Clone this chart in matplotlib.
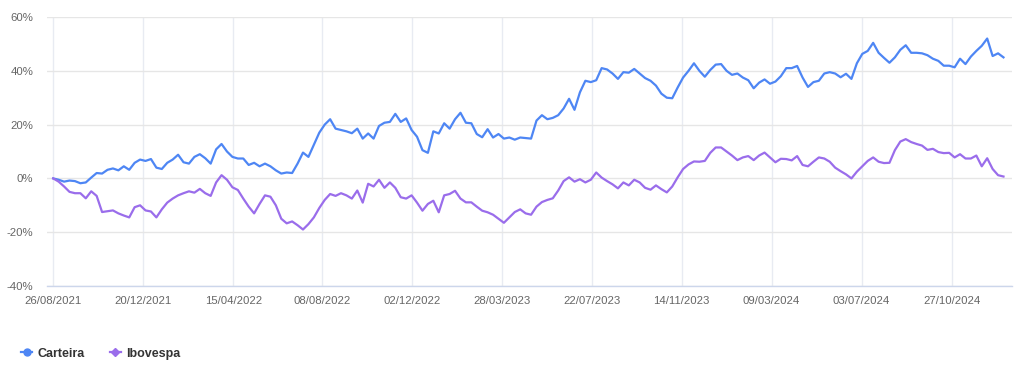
import numpy as np
import pandas as pd
import matplotlib
matplotlib.use("Agg")
import matplotlib.pyplot as plt
import matplotlib.dates as mdates
from matplotlib.lines import Line2D
from matplotlib.ticker import FuncFormatter

plt.rcParams['font.family'] = ['Liberation Sans', 'DejaVu Sans']

# weekly observations starting 26/08/2021
dates = pd.date_range('2021-08-26', periods=176, freq='7D')

# accumulated return (%)
carteira = [
    0.0, -0.5, -1.2, -0.8, -1.0, -1.8, -1.5, 0.3, 2.0, 1.8,
    3.2, 3.7, 3.0, 4.5, 3.2, 5.8, 7.0, 6.5, 7.2, 4.0,
    3.5, 5.8, 7.0, 8.8, 6.0, 5.5, 8.0, 9.0, 7.5, 5.5,
    10.8, 12.8, 10.0, 8.0, 7.4, 7.4, 5.0, 5.8, 4.5, 5.5,
    4.5, 3.0, 1.8, 2.2, 2.0, 5.5, 9.6, 8.0, 12.5, 17.0,
    20.0, 22.0, 18.5, 18.0, 17.5, 16.8, 18.5, 14.8, 16.7, 14.8,
    19.5, 20.7, 21.0, 24.0, 21.0, 22.3, 18.0, 15.5, 10.5, 9.5,
    17.5, 16.7, 20.5, 18.5, 22.0, 24.4, 20.7, 20.5, 16.5, 15.3,
    18.3, 15.2, 16.5, 14.8, 15.2, 14.4, 15.2, 15.0, 14.8, 21.5,
    23.5, 22.0, 22.5, 23.5, 26.0, 29.6, 25.5, 32.0, 36.3, 35.8,
    36.5, 41.0, 40.5, 39.0, 37.0, 39.5, 39.3, 40.7, 39.0, 37.3,
    36.3, 34.5, 31.5, 30.0, 29.8, 33.8, 37.5, 40.0, 42.8, 40.0,
    37.8, 40.3, 42.3, 42.5, 40.0, 38.5, 39.0, 37.5, 36.5, 33.5,
    35.6, 36.8, 35.2, 36.0, 38.0, 41.0, 41.0, 41.8, 37.5, 34.0,
    35.8, 36.3, 39.0, 39.5, 39.0, 37.6, 38.9, 37.0, 42.8, 46.3,
    47.4, 50.4, 46.7, 44.8, 43.0, 45.0, 47.8, 49.5, 46.7, 46.7,
    46.5, 45.8, 44.5, 43.7, 41.9, 41.9, 41.3, 44.5, 42.5, 45.3,
    47.4, 49.3, 52.0, 45.5, 46.5, 45.0,
]

ibovespa = [
    0.0, -1.2, -3.0, -5.0, -5.5, -5.5, -7.4, -4.8, -6.5, -12.5,
    -12.2, -11.9, -13.0, -13.8, -14.5, -10.7, -10.0, -11.9, -12.3, -14.5,
    -11.5, -9.0, -7.5, -6.3, -5.5, -4.8, -5.3, -3.9, -5.5, -6.5,
    -1.5, 1.2, -0.5, -3.3, -4.3, -7.5, -10.5, -13.0, -9.5, -6.3,
    -6.8, -10.0, -15.0, -16.7, -16.0, -17.4, -19.0, -17.0, -14.5, -11.0,
    -8.0, -5.8, -6.5, -5.5, -6.3, -7.5, -4.5, -9.0, -2.0, -3.0,
    -0.5, -3.5, -1.5, -3.5, -7.0, -7.5, -6.3, -9.0, -12.0, -9.5,
    -8.3, -12.6, -6.3, -5.8, -4.6, -7.5, -8.9, -8.9, -10.5, -12.0,
    -12.6, -13.5, -15.0, -16.5, -14.5, -12.5, -11.5, -13.0, -13.5, -10.5,
    -8.8, -8.0, -7.4, -4.5, -1.0, 0.4, -1.2, -0.3, -1.5, -0.5,
    2.2, 0.3, -1.0, -2.2, -3.7, -1.5, -2.6, -0.5, -1.5, -3.5,
    -4.2, -2.6, -4.0, -5.2, -3.0, 0.4, 3.5, 5.2, 6.3, 6.2,
    6.5, 9.5, 11.5, 11.5, 10.0, 8.5, 6.8, 7.8, 8.3, 6.8,
    8.5, 9.6, 7.8, 6.0, 7.3, 7.2, 6.7, 8.3, 5.0, 4.5,
    6.2, 7.8, 7.4, 6.2, 4.0, 2.7, 1.5, 0.0, 2.5, 4.5,
    6.5, 7.8, 6.2, 5.7, 5.8, 10.5, 13.7, 14.6, 13.5, 12.8,
    12.2, 10.6, 11.0, 9.8, 9.4, 9.5, 7.8, 9.0, 7.4, 7.4,
    8.5, 4.5, 7.5, 3.5, 1.2, 0.7,
]

tick_dates = pd.to_datetime(['2021-08-26', '2021-12-20', '2022-04-15', '2022-08-08',
                             '2022-12-02', '2023-03-28', '2023-07-22', '2023-11-14',
                             '2024-03-09', '2024-07-03', '2024-10-27'])
y_ticks = [-40, -20, 0, 20, 40, 60]

c_cart = '#4e86f4'
c_ibov = '#9a6deb'

fig = plt.figure(figsize=(10.24, 3.74), dpi=100)
ax = fig.add_axes([0.0459, 0.2353, 0.9424, 0.7192])

ax.plot(dates, carteira, color=c_cart, lw=1.6, solid_joinstyle='round')
ax.plot(dates, ibovespa, color=c_ibov, lw=1.6, solid_joinstyle='round')

ax.set_ylim(-40, 60)
ax.set_yticks(y_ticks)
ax.yaxis.set_major_formatter(FuncFormatter(lambda v, p: f'{v:.0f}%'))
ax.set_xticks(tick_dates)
ax.xaxis.set_major_formatter(mdates.DateFormatter('%d/%m/%Y'))
ax.set_xlim(tick_dates[0] - pd.Timedelta(days=8), tick_dates[-1] + pd.Timedelta(days=78))

ax.grid(axis='y', color='#e6e6e6', lw=1)
ax.grid(axis='x', color='#e8ebf2', lw=1)
ax.set_axisbelow(True)
for s in ['top', 'right', 'left']:
    ax.spines[s].set_visible(False)
ax.spines['bottom'].set_color('#ccd6eb')
ax.spines['bottom'].set_linewidth(1)
ax.tick_params(axis='both', length=0, labelsize=8.2, colors='#666666')
ax.tick_params(axis='y', pad=10)
ax.tick_params(axis='x', pad=7)

handles = [
    Line2D([], [], color=c_cart, lw=1.6, marker='o', markersize=5),
    Line2D([], [], color=c_ibov, lw=1.6, marker='D', markersize=4),
]
leg = fig.legend(handles, ['Carteira', 'Ibovespa'], loc='lower left',
                 bbox_to_anchor=(0.01, 0.008), ncol=2, frameon=False,
                 handlelength=0.85, handletextpad=0.45, columnspacing=2.0,
                 prop={'weight': 'bold', 'size': 9})
for t in leg.get_texts():
    t.set_color('#333333')

fig.savefig('out.png', dpi=100, facecolor='white')
